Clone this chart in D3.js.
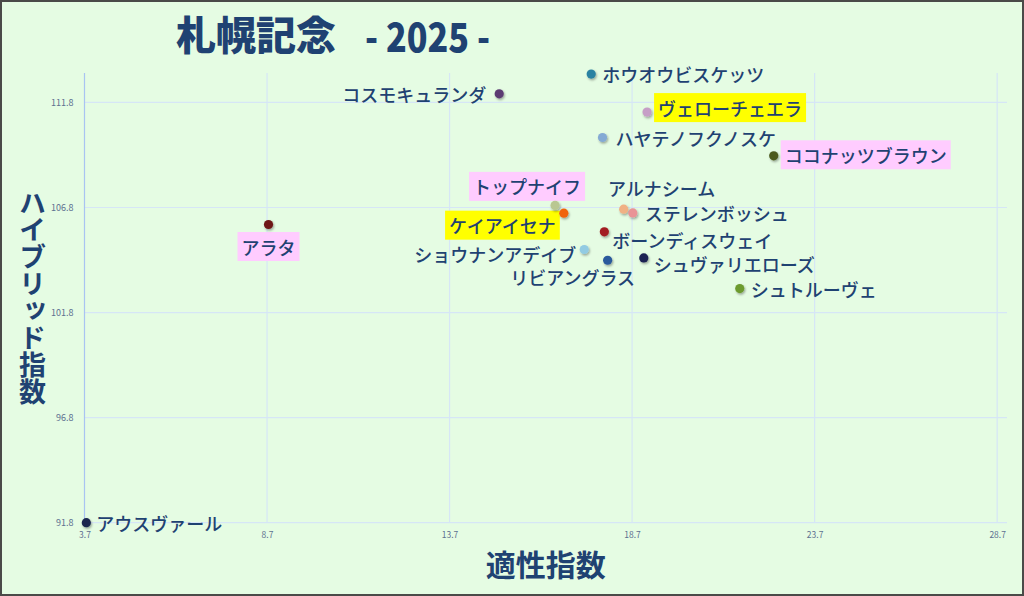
<!DOCTYPE html>
<html><head><meta charset="utf-8">
<script src="https://cdn.jsdelivr.net/npm/d3@7"></script>
<style>
html,body{margin:0;padding:0;background:#e5fce3;}
svg{display:block;}
</style></head>
<body>
<svg id="chart" width="1024" height="596"></svg>
<script>
// ---- data ----
const horses = ["アウスヴァール","アラタ","コスモキュランダ","ホウオウビスケッツ","ヴェローチェエラ","ハヤテノフクノスケ","ココナッツブラウン","トップナイフ","ケイアイセナ","アルナシーム","ステレンボッシュ","ボーンディスウェイ","ショウナンアデイブ","リビアングラス","シュヴァリエローズ","シュトルーヴェ"];
const tekisei = [3.75, 8.74, 15.06, 17.58, 19.11, 17.89, 22.58, 16.59, 16.83, 18.47, 18.72, 17.94, 17.39, 18.03, 19.02, 21.65];
const hybrid  = [91.8, 105.99, 112.21, 113.15, 111.34, 110.13, 109.26, 106.9, 106.53, 106.72, 106.54, 105.64, 104.8, 104.29, 104.4, 102.94];
const xTicks = [3.7, 8.7, 13.7, 18.7, 23.7, 28.7];
const yTicks = [91.8, 96.8, 101.8, 106.8, 111.8];
const titleMain = "札幌記念";
const titleYear = "- 2025 -";
const xTitle = "適性指数";
const yTitle = "ハイブリッド指数";

// ---- styles / layout (separate from data) ----
const dotColors = ["#1b2850","#6e1818","#5b3a72","#2a82a2","#c69ec6","#84aad4","#4b5a1e","#b9c792","#f0620e","#f0b184","#e99396","#a21f22","#92cbe2","#2b5a9c","#1c2252","#6c9b2f"];
const highlight = [null,"#ffccff",null,null,"#ffff00",null,"#ffccff","#ffccff","#ffff00",null,null,null,null,null,null,null];
const labelPos = [
  {a:"start",dx:10,dy:0},{a:"middle",dx:0,dy:22},{a:"end",dx:-13,dy:0},{a:"start",dx:11,dy:0},
  {a:"start",dx:11,dy:-4.5},{a:"start",dx:13,dy:0},{a:"start",dx:11,dy:-1},{a:"middle",dx:-28,dy:-19},
  {a:"end",dx:-8,dy:12},{a:"middle",dx:38,dy:-21},{a:"start",dx:12,dy:0},{a:"start",dx:8,dy:8},
  {a:"end",dx:-8,dy:4},{a:"middle",dx:-35,dy:17},{a:"start",dx:10,dy:6},{a:"start",dx:11,dy:0}
];
const FONT = "'Noto Sans CJK JP','Noto Sans',sans-serif";
const TEXTC = "#1f4272";

const svg = d3.select("#chart");
const W = 1024, H = 596;
const plot = {left:84.5, right:1007, top:73, bottom:522.7};

svg.append("rect").attr("x",0).attr("y",0).attr("width",W).attr("height",H).attr("fill","#e5fce3");

const defs = svg.append("defs");
const f = defs.append("filter").attr("id","sh").attr("x","-50%").attr("y","-50%").attr("width","200%").attr("height","200%");
f.append("feDropShadow").attr("dx",1).attr("dy",1.5).attr("stdDeviation",1).attr("flood-color","#000").attr("flood-opacity",0.35);

const x = d3.scaleLinear().domain([3.7, 28.97]).range([plot.left, plot.right]);
const y = d3.scaleLinear().domain([91.8, 113.2]).range([plot.bottom, plot.top]);

// grid
const grid = svg.append("g");
grid.selectAll(".hg").data(yTicks).join("line")
  .attr("x1",plot.left).attr("x2",plot.right).attr("y1",d=>y(d)).attr("y2",d=>y(d))
  .attr("stroke","#d6e6f6").attr("stroke-width",1.2);
grid.selectAll(".vg").data(xTicks.slice(1)).join("line")
  .attr("x1",d=>x(d)).attr("x2",d=>x(d)).attr("y1",plot.top).attr("y2",plot.bottom)
  .attr("stroke","#d6e6f6").attr("stroke-width",1.2);
grid.append("line").attr("x1",x(3.7)).attr("x2",x(3.7)).attr("y1",plot.top).attr("y2",plot.bottom)
  .attr("stroke","#a9c4f2").attr("stroke-width",1.2);

// axes (labels only)
const xAxis = svg.append("g").attr("transform",`translate(0,${plot.bottom+6})`)
  .call(d3.axisBottom(x).tickValues(xTicks).tickSize(0).tickFormat(d3.format(".1f")));
xAxis.select(".domain").remove();
xAxis.selectAll("text").attr("font-family",FONT).attr("font-size",8.5).attr("fill","#5d7090");

const yAxis = svg.append("g").attr("transform",`translate(${plot.left-8},0)`)
  .call(d3.axisLeft(y).tickValues(yTicks).tickSize(0).tickFormat(d3.format(".1f")));
yAxis.select(".domain").remove();
yAxis.selectAll("text").attr("font-family",FONT).attr("font-size",9).attr("fill","#5d7090").attr("dy","0.32em");

// title
svg.append("text").attr("x",176).attr("y",33).attr("dominant-baseline","central")
  .attr("font-family",FONT).attr("font-weight",900).attr("font-size",40).attr("fill",TEXTC).text(titleMain);
svg.append("text").attr("x",365).attr("y",34.5).attr("dominant-baseline","central")
  .attr("font-family",FONT).attr("font-weight",900).attr("font-size",40).attr("fill",TEXTC)
  .attr("textLength",125).attr("lengthAdjust","spacingAndGlyphs").text(titleYear);

// axis titles
svg.append("text").attr("x",(plot.left+plot.right)/2).attr("y",563).attr("text-anchor","middle")
  .attr("dominant-baseline","central").attr("font-family",FONT).attr("font-weight",700)
  .attr("font-size",30).attr("fill",TEXTC).text(xTitle);
svg.append("text").attr("x",32.5).attr("y",297.5).attr("text-anchor","middle")
  .style("writing-mode","vertical-rl").style("text-orientation","upright")
  .attr("font-family",FONT).attr("font-weight",700).attr("font-size",27).attr("fill",TEXTC).text(yTitle);

// points + labels
const idx = d3.range(horses.length);
const lab = svg.append("g");
idx.forEach(i=>{
  const px = x(tekisei[i]), py = y(hybrid[i]);
  const p = labelPos[i];
  const g = lab.append("g");
  const t = g.append("text").attr("x",px+p.dx).attr("y",py+p.dy).attr("text-anchor",p.a)
    .attr("dominant-baseline","central").attr("font-family",FONT).attr("font-weight",500)
    .attr("font-size",18).attr("fill",TEXTC).text(horses[i]);
  if (highlight[i]) {
    const bb = t.node().getBBox();
    g.insert("rect","text").attr("x",bb.x-4).attr("y",py+p.dy-14.5).attr("width",bb.width+8).attr("height",29)
      .attr("fill",highlight[i]);
  }
});
svg.append("g").selectAll("circle").data(idx).join("circle")
  .attr("cx",i=>x(tekisei[i])).attr("cy",i=>y(hybrid[i])).attr("r",4.6)
  .attr("fill",i=>dotColors[i]).attr("filter","url(#sh)");

// frame
svg.append("rect").attr("x",1).attr("y",1).attr("width",W-2).attr("height",H-2)
  .attr("fill","none").attr("stroke","#4a4a48").attr("stroke-width",2);
</script>
</body></html>
